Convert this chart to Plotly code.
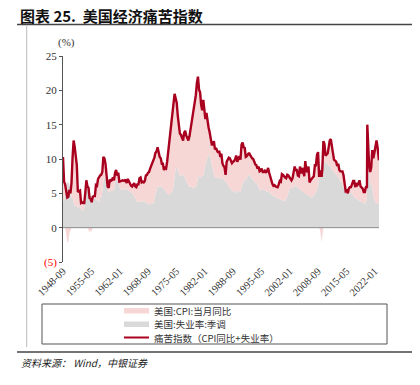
import plotly.graph_objects as go

# ---------------- data (quarterly + key months) ----------------
dates = [
 "1948-09","1948-12",
 "1949-03","1949-06","1949-09","1949-12",
 "1950-03","1950-06","1950-09","1950-12",
 "1951-03","1951-06","1951-09","1951-12",
 "1952-03","1952-06","1952-09","1952-12",
 "1953-03","1953-06","1953-09","1953-12",
 "1954-03","1954-06","1954-09","1954-12",
 "1955-03","1955-06","1955-09","1955-12",
 "1956-03","1956-06","1956-09","1956-12",
 "1957-03","1957-06","1957-09","1957-12",
 "1958-03","1958-06","1958-09","1958-12",
 "1959-03","1959-06","1959-09","1959-12",
 "1960-03","1960-06","1960-09","1960-12",
 "1961-03","1961-06","1961-09","1961-12",
 "1962-03","1962-06","1962-09","1962-12",
 "1963-03","1963-06","1963-09","1963-12",
 "1964-03","1964-06","1964-09","1964-12",
 "1965-03","1965-06","1965-09","1965-12",
 "1966-03","1966-06","1966-09","1966-12",
 "1967-03","1967-06","1967-09","1967-12",
 "1968-03","1968-06","1968-09","1968-12",
 "1969-03","1969-06","1969-09","1969-12",
 "1970-03","1970-06","1970-09","1970-12",
 "1971-03","1971-06","1971-09","1971-12",
 "1972-03","1972-06","1972-09","1972-12",
 "1973-03","1973-06","1973-09","1973-12",
 "1974-03","1974-06","1974-09","1974-12",
 "1975-03","1975-06","1975-09","1975-12",
 "1976-03","1976-06","1976-09","1976-12",
 "1977-03","1977-06","1977-09","1977-12",
 "1978-03","1978-06","1978-09","1978-12",
 "1979-03","1979-06","1979-09","1979-12",
 "1980-03","1980-06","1980-09","1980-12",
 "1981-03","1981-06","1981-09","1981-12",
 "1982-03","1982-06","1982-09","1982-12",
 "1983-03","1983-06","1983-09","1983-12",
 "1984-03","1984-06","1984-09","1984-12",
 "1985-03","1985-06","1985-09","1985-12",
 "1986-03","1986-06","1986-09","1986-12",
 "1987-03","1987-06","1987-09","1987-12",
 "1988-03","1988-06","1988-09","1988-12",
 "1989-03","1989-06","1989-09","1989-12",
 "1990-03","1990-06","1990-09","1990-12",
 "1991-03","1991-06","1991-09","1991-12",
 "1992-03","1992-06","1992-09","1992-12",
 "1993-03","1993-06","1993-09","1993-12",
 "1994-03","1994-06","1994-09","1994-12",
 "1995-03","1995-06","1995-09","1995-12",
 "1996-03","1996-06","1996-09","1996-12",
 "1997-03","1997-06","1997-09","1997-12",
 "1998-03","1998-06","1998-09","1998-12",
 "1999-03","1999-06","1999-09","1999-12",
 "2000-03","2000-06","2000-09","2000-12",
 "2001-03","2001-06","2001-09","2001-12",
 "2002-03","2002-06","2002-09","2002-12",
 "2003-03","2003-06","2003-09","2003-12",
 "2004-03","2004-06","2004-09","2004-12",
 "2005-03","2005-06","2005-09","2005-12",
 "2006-03","2006-06","2006-09","2006-12",
 "2007-03","2007-06","2007-09","2007-12",
 "2008-03","2008-06","2008-09","2008-12",
 "2009-03","2009-06","2009-07","2009-09","2009-12",
 "2010-03","2010-06","2010-09","2010-12",
 "2011-03","2011-06","2011-09","2011-12",
 "2012-03","2012-06","2012-09","2012-12",
 "2013-03","2013-06","2013-09","2013-12",
 "2014-03","2014-06","2014-09","2014-12",
 "2015-03","2015-06","2015-09","2015-12",
 "2016-03","2016-06","2016-09","2016-12",
 "2017-03","2017-06","2017-09","2017-12",
 "2018-03","2018-06","2018-09","2018-12",
 "2019-03","2019-06","2019-09","2019-12",
 "2020-03","2020-04","2020-06","2020-09","2020-12",
 "2021-03","2021-06","2021-09","2021-12",
 "2022-03","2022-06","2022-09","2022-12",
 "2023-01",
]

unemployment = [
 3.8,4.0,
 5.0,6.2,6.6,6.6,
 6.3,5.4,4.4,4.3,
 3.4,3.1,3.3,3.1,
 2.9,3.0,3.2,2.7,
 2.6,2.5,2.9,4.5,
 5.8,5.6,6.1,5.0,
 4.6,4.3,4.1,4.2,
 4.2,4.3,3.9,4.2,
 3.7,4.3,4.4,5.2,
 6.7,7.3,7.2,6.2,
 5.6,5.0,5.5,5.3,
 5.4,5.5,5.5,6.6,
 6.9,6.9,6.7,6.0,
 5.6,5.5,5.6,5.5,
 5.7,5.7,5.5,5.5,
 5.4,5.2,5.1,5.0,
 4.9,4.6,4.4,4.0,
 3.8,3.8,3.7,3.8,
 3.8,3.9,3.8,3.8,
 3.7,3.5,3.6,3.4,
 3.4,3.5,3.7,3.5,
 4.4,4.9,5.4,6.1,
 6.0,5.9,6.0,6.0,
 5.8,5.7,5.5,5.2,
 4.9,4.9,4.8,4.9,
 5.1,5.4,6.0,7.2,
 8.6,8.8,8.4,8.2,
 7.6,7.6,7.6,7.8,
 7.4,7.2,6.8,6.4,
 6.3,5.9,6.0,6.0,
 5.8,5.7,5.9,6.0,
 6.3,7.6,7.5,7.2,
 7.4,7.5,7.6,8.5,
 9.0,9.6,10.1,10.8,
 10.3,10.1,9.2,8.3,
 7.8,7.2,7.3,7.3,
 7.2,7.4,7.1,7.0,
 7.2,7.2,7.0,6.6,
 6.6,6.2,5.9,5.7,
 5.7,5.4,5.4,5.3,
 5.0,5.3,5.3,5.4,
 5.2,5.2,5.9,6.3,
 6.8,6.9,6.9,7.3,
 7.4,7.8,7.6,7.4,
 7.0,7.0,6.7,6.5,
 6.6,6.1,5.9,5.5,
 5.4,5.6,5.6,5.6,
 5.5,5.3,5.2,5.4,
 5.2,5.0,4.9,4.7,
 4.7,4.5,4.5,4.4,
 4.2,4.3,4.2,4.0,
 4.0,4.0,3.9,3.9,
 4.3,4.5,5.0,5.7,
 5.7,5.8,5.7,6.0,
 5.9,6.3,6.1,5.7,
 5.8,5.6,5.4,5.4,
 5.2,5.0,5.0,4.9,
 4.7,4.6,4.5,4.4,
 4.4,4.6,4.7,5.0,
 5.1,5.6,6.1,7.3,
 8.7,9.5,9.5,9.8,9.9,
 9.9,9.4,9.5,9.3,
 9.0,9.1,9.0,8.5,
 8.2,8.2,7.8,7.9,
 7.5,7.5,7.2,6.7,
 6.7,6.1,5.9,5.6,
 5.4,5.3,5.0,5.0,
 5.0,4.9,5.0,4.7,
 4.4,4.3,4.3,4.1,
 4.0,4.0,3.7,3.9,
 3.8,3.6,3.5,3.6,
 4.4,14.7,11.0,7.8,6.7,
 6.1,5.9,4.7,3.9,
 3.6,3.6,3.5,3.5,
 3.4,
]

cpi_yoy = [
 6.5,2.7,
 1.3,-0.9,-2.2,-2.1,
 -0.8,-0.4,2.1,5.9,
 9.3,8.7,6.9,6.0,
 2.3,2.3,2.2,0.9,
 1.1,1.1,0.7,0.6,
 1.1,0.4,-0.3,-0.7,
 -0.4,-0.6,0.4,0.4,
 0.4,1.9,2.2,2.9,
 3.7,3.3,3.3,2.9,
 3.6,2.8,2.1,1.8,
 0.4,0.8,1.5,1.5,
 1.5,1.8,1.4,1.4,
 1.5,0.7,1.3,0.7,
 1.1,1.3,1.3,1.3,
 1.1,1.3,1.0,1.6,
 1.3,1.3,1.0,1.0,
 1.3,1.9,1.6,1.9,
 2.5,2.5,3.5,3.5,
 2.8,2.8,2.8,3.0,
 3.9,4.2,4.4,4.7,
 5.2,5.5,5.7,6.2,
 5.8,6.0,5.7,5.6,
 4.7,4.4,4.1,3.3,
 3.5,2.7,3.2,3.4,
 4.7,6.0,7.4,8.7,
 10.2,10.9,12.1,12.3,
 10.3,9.4,7.9,6.9,
 6.1,5.9,5.5,4.9,
 6.4,6.9,6.6,6.7,
 6.4,7.4,8.3,9.0,
 10.1,10.9,12.2,13.3,
 14.8,14.4,12.6,12.5,
 10.5,9.6,11.0,8.9,
 6.8,7.1,5.0,3.8,
 3.6,2.6,2.9,3.8,
 4.8,4.2,4.3,3.9,
 3.7,3.8,3.2,3.8,
 2.2,1.8,1.8,1.1,
 3.0,3.7,4.3,4.4,
 3.9,4.0,4.2,4.4,
 5.0,5.2,4.3,4.6,
 5.2,4.7,6.2,6.1,
 4.9,4.7,3.4,3.1,
 3.2,3.1,3.0,2.9,
 3.1,3.0,2.7,2.7,
 2.5,2.5,3.0,2.7,
 2.9,3.0,2.5,2.5,
 2.8,2.8,3.0,3.3,
 2.8,2.3,2.2,1.7,
 1.4,1.7,1.5,1.6,
 1.7,2.0,2.6,2.7,
 3.8,3.7,3.5,3.4,
 2.9,3.2,2.6,1.6,
 1.5,1.1,1.5,2.4,
 3.0,2.1,2.3,1.9,
 1.7,3.3,2.5,3.3,
 3.1,2.5,4.7,3.4,
 3.4,4.3,2.1,2.5,
 2.8,2.7,2.8,4.1,
 4.0,5.0,4.9,0.1,
 -0.4,-1.4,-2.1,-1.3,2.7,
 2.3,1.1,1.1,1.5,
 2.7,3.6,3.9,3.0,
 2.7,1.7,2.0,1.7,
 1.5,1.8,1.2,1.5,
 1.5,2.1,1.7,0.8,
 -0.1,0.1,0.0,0.7,
 0.9,1.0,1.5,2.1,
 2.4,1.6,2.2,2.1,
 2.4,2.9,2.3,1.9,
 1.9,1.6,1.7,2.3,
 1.5,0.3,0.6,1.4,1.4,
 2.6,5.4,5.4,7.0,
 8.5,9.1,8.2,6.5,
 6.4,
]

tick_labels = ["1948-09","1955-05","1962-01","1968-09","1975-05","1982-01",
               "1988-09","1995-05","2002-01","2008-09","2015-05","2022-01"]
y_ticks = [-5, 0, 5, 10, 15, 20, 25]
y_tick_text = ["<span style='color:#ff0000'>(5)</span>", "0", "5", "10", "15", "20", "25"]

legend_names = ["美国:CPI:当月同比", "美国:失业率:季调", "痛苦指数（CPI同比+失业率）"]

# derived series
misery = [u + c for u, c in zip(unemployment, cpi_yoy)]
pink_top = [u + max(c, 0) for u, c in zip(unemployment, cpi_yoy)]
pink_neg = [min(c, 0) for c in cpi_yoy]

# ---------------- styles ----------------
OFF = 8                      # page body margin offset
W, H = 420 - OFF, 385 - OFF
L = 63 - OFF
T = 56 - OFF
R = W - (379 - OFF)
B = H - (262 - OFF)
PW, PH = W - L - R, H - T - B
PINK = "#f7d6d6"
GREY = "#d9d9d9"
RED = "#a8001e"
SERIF = "Liberation Serif, Times New Roman, serif"
CJK = "Noto Sans CJK SC"

def px(x):
    return (x - OFF - L) / PW

def py(y):
    return (H - B - (y - OFF)) / PH

fig = go.Figure()
fig.add_trace(go.Scatter(x=dates, y=unemployment, mode="lines", line=dict(width=0),
                         fill="tozeroy", fillcolor=GREY, showlegend=False, hoverinfo="skip"))
fig.add_trace(go.Scatter(x=dates, y=pink_top, mode="lines", line=dict(width=0),
                         fill="tonexty", fillcolor=PINK, showlegend=False, hoverinfo="skip"))
fig.add_trace(go.Scatter(x=dates, y=pink_neg, mode="lines", line=dict(width=0),
                         fill="tozeroy", fillcolor=PINK, showlegend=False, hoverinfo="skip"))
fig.add_trace(go.Scatter(x=dates, y=misery, mode="lines", line=dict(color=RED, width=2.4),
                         showlegend=False))

shapes = [
    dict(type="line", xref="paper", yref="y", x0=0, x1=1, y0=0, y1=0,
         line=dict(color="#8c8c8c", width=1), layer="above"),
    dict(type="line", xref="paper", yref="paper", x0=px(17), x1=px(413), y0=py(24.5), y1=py(24.5),
         line=dict(color="#444", width=1.3)),
    dict(type="line", xref="paper", yref="paper", x0=px(26.7), x1=px(26.7), y0=py(26), y1=py(347),
         line=dict(color="#bbbbbb", width=1)),
    dict(type="line", xref="paper", yref="paper", x0=px(17), x1=px(413), y0=py(352), y1=py(352),
         line=dict(color="#444", width=1.3)),
    dict(type="rect", xref="paper", yref="paper", x0=px(42), x1=px(387), y0=py(304), y1=py(344),
         line=dict(color="#555", width=1), fillcolor="rgba(0,0,0,0)"),
    dict(type="rect", xref="paper", yref="paper", x0=px(124), x1=px(149), y0=py(308), y1=py(313.5),
         line=dict(width=0), fillcolor=PINK),
    dict(type="rect", xref="paper", yref="paper", x0=px(124), x1=px(149), y0=py(321.5), y1=py(327),
         line=dict(width=0), fillcolor=GREY),
    dict(type="line", xref="paper", yref="paper", x0=px(124), x1=px(149), y0=py(337.5), y1=py(337.5),
         line=dict(color=RED, width=2)),
]

annotations = [
    dict(text="<b>图表 25.  美国经济痛苦指数</b>", x=px(18), y=py(15.5), xref="paper", yref="paper",
         xanchor="left", yanchor="middle", showarrow=False,
         font=dict(family=CJK, size=15, color="#111")),
    dict(text="(%)", x=px(66), y=py(42), xref="paper", yref="paper", xanchor="center",
         yanchor="middle", showarrow=False, font=dict(family=SERIF, size=11, color="#333")),
    dict(text="<i>资料来源： Wind，中银证券</i>", x=px(19), y=py(362), xref="paper", yref="paper",
         xanchor="left", yanchor="middle", showarrow=False,
         font=dict(family=CJK, size=10, color="#222")),
]
for name, yy in zip(legend_names, [311, 324, 337.5]):
    annotations.append(dict(text=name, x=px(152), y=py(yy), xref="paper", yref="paper",
                            xanchor="left", yanchor="middle", showarrow=False,
                            font=dict(family=CJK, size=9.5, color="#333")))

fig.update_layout(
    width=W, height=H,
    margin=dict(l=L, r=R, t=T, b=B),
    paper_bgcolor="white", plot_bgcolor="white",
    shapes=shapes, annotations=annotations,
    showlegend=False,
    xaxis=dict(type="date", range=["1948-09-01", "2023-01-01"],
               tickvals=tick_labels, ticktext=tick_labels, tickangle=-45,
               showgrid=False, zeroline=False, showline=False, ticks="",
               tickfont=dict(family=SERIF, size=10.5, color="#333")),
    yaxis=dict(range=[-5, 25], tickvals=y_ticks, ticktext=y_tick_text,
               showgrid=False, zeroline=False, showline=True, linecolor="#555", linewidth=1,
               ticks="outside", ticklen=3, tickcolor="#555",
               tickfont=dict(family=SERIF, size=11, color="#333")),
)

fig.write_html("out.html")
